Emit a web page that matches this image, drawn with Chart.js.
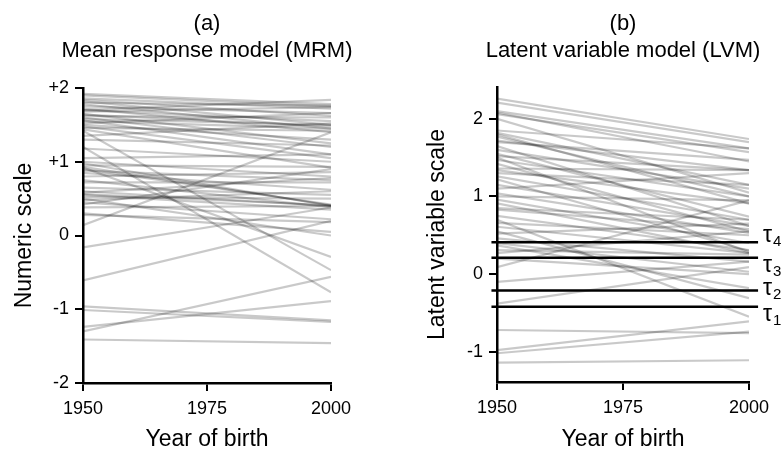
<!DOCTYPE html>
<html>
<head>
<meta charset="utf-8">
<script src="https://cdn.jsdelivr.net/npm/chart.js@4.4.1/dist/chart.umd.min.js"></script>
<style>
  body { margin: 0; background: #fff; }
  #wrap { position: relative; width: 783px; height: 451px; }
  #mrmChart { position: absolute; left: 0; top: 0; }
  #lvmChart { position: absolute; left: 392px; top: 0; }
</style>
</head>
<body>
<div id="wrap">
  <canvas id="mrmChart" width="392" height="451"></canvas>
  <canvas id="lvmChart" width="391" height="451"></canvas>
</div>
<script>
const years = [1950, 2000];
const yearTicks = [1950, 1975, 2000];

const mrmTicks = [-2, -1, 0, 1, 2];
const mrmTickLabels = ["-2", "-1", "0", "+1", "+2"];
const mrmStart = [
  1.92, 1.9, 1.7, 1.86, 1.84, 1.82, 1.8, 1.78, 1.75, 1.72, 1.7, 1.68, 1.65, 1.64, 1.62,
  1.6, 1.58, 1.56, 1.55, 1.52, 1.5, 1.48, 1.46, 1.44, 1.42, 1.35, 1.3, 1.2, 1.18, 1.05,
  1.0, 0.98, 0.95, 0.93, 0.92, 0.9, 0.88, 0.85, 0.8, 0.75, 0.72, 0.65, 0.6, 0.58, 0.56,
  0.55, 0.52, 0.5, 0.48, 0.45, 0.42, 0.38, 0.3, 0.28, 0.14, -0.16, -0.61, -0.96, -1.01,
  -1.24, -1.3, -1.41
];
const mrmEnd = [
  1.78, 1.75, 1.84, 1.72, 1.62, 1.5, 1.76, 1.45, 1.66, 1.4, 1.55, 1.74, 1.25, 1.48, 1.6,
  1.2, 1.5, 1.1, 1.45, 1.66, 1.3, 1.05, 1.42, 0.92, -0.47, 1.52, 1.22, -0.77, 1.0, 1.1,
  0.8, 0.4, 0.93, 0.41, -0.29, 0.42, 0.75, 0.62, 0.86, 0.38, 0.72, 0.55, 0.4, 0.78, 0.41,
  0.35, 0.5, 0.0, 0.6, 0.22, 0.9, 0.4, 0.05, 0.18, 1.4, 0.38, 0.2, -1.15, -1.17,
  -0.89, -0.56, -1.46
];

const lvmTicks = [-1, 0, 1, 2];
const lvmStart = [
  2.26, 2.21, 2.1, 2.08, 2.06, 2.0, 1.85, 1.82, 1.8, 1.77, 1.72, 1.7, 1.65, 1.6, 1.55,
  1.52, 1.5, 1.47, 1.42, 1.36, 1.34, 1.3, 1.26, 1.22, 1.15, 1.1, 1.04, 1.0, 0.96, 0.91,
  0.85, 0.83, 0.75, 0.7, 0.66, 0.61, 0.55, 0.52, 0.46, 0.4, 0.37, 0.31, 0.27, 0.2, 0.09,
  -0.1, -0.38, -0.72, -0.98, -1.02, -1.14
];
const lvmEnd = [
  1.74, 1.7, 1.62, 1.45, 1.57, 1.05, 1.62, 1.15, 0.91, 1.0, 1.34, 1.47, 0.62, 1.1, 0.74,
  1.34, 0.28, 1.0, 0.55, 1.34, 0.91, 1.15, 0.7, 0.3, 0.62, 1.3, 0.53, 0.95, 0.4, 0.27,
  0.7, 0.58, 0.31, -0.55, 0.5, 0.27, -0.31, 0.65, 0.16, 0.03, -0.18, 0.25, 0.55, 0.0, 0.95,
  0.16, 0.09, -0.76, -0.61, -0.74, -1.11
];
const tau = [-0.42, -0.21, 0.21, 0.41];
const tauLabels = ["1", "2", "3", "4"];

const FONT = '"Liberation Sans", Arial, sans-serif';

function lineSets(starts, ends) {
  return starts.map((s, i) => ({
    data: [{ x: years[0], y: s }, { x: years[1], y: ends[i] }],
    borderColor: "rgba(0, 0, 0, 0.21)",
    borderWidth: 2.2,
    pointRadius: 0,
    fill: false,
  }));
}

function axis(ticks, labels, min, max, fitSize, isX) {
  return {
    type: "linear",
    min,
    max,
    afterBuildTicks: (scale) => {
      scale.ticks = ticks.map((v) => ({ value: v }));
    },
    afterFit: (scale) => {
      if (isX) scale.height = fitSize;
      else scale.width = fitSize;
    },
    ticks: {
      color: "#000",
      font: { family: FONT, size: 18 },
      padding: isX ? 7 : 6,
      maxRotation: 0,
      autoSkip: false,
      callback: (v) => {
        const i = ticks.indexOf(v);
        return labels ? labels[i] : String(v);
      },
    },
    grid: {
      drawOnChartArea: false,
      drawTicks: true,
      tickLength: 8,
      color: "#000",
      lineWidth: 2,
    },
    border: { display: true, color: "#000", width: 2.5 },
  };
}

function textPlugin(title1, title2, yTitle, yTitleX, withTau) {
  return {
    id: "texts",
    afterDraw(chart) {
      const { ctx, chartArea } = chart;
      const cx = (chartArea.left + chartArea.right) / 2;
      const cy = (chartArea.top + chartArea.bottom) / 2;
      ctx.save();
      ctx.fillStyle = "#000";
      ctx.textAlign = "center";
      ctx.textBaseline = "alphabetic";
      ctx.font = "22px " + FONT;
      ctx.fillText(title1, cx, 30);
      ctx.fillText(title2, cx, 57);
      ctx.font = "23px " + FONT;
      ctx.fillText("Year of birth", cx, 446);
      ctx.save();
      ctx.translate(yTitleX, cy);
      ctx.rotate(-Math.PI / 2);
      ctx.textBaseline = "middle";
      ctx.fillText(yTitle, 0, 0);
      ctx.restore();
      if (withTau) {
        const y = chart.scales.y;
        const offs = [14, 5, 14, 0];
        ctx.textAlign = "left";
        tau.forEach((t, i) => {
          const py = y.getPixelForValue(t) + offs[i];
          const px = chartArea.right + 14;
          ctx.font = "23px " + FONT;
          ctx.fillText("\u03c4", px, py);
          const w = ctx.measureText("\u03c4").width;
          ctx.font = "15px " + FONT;
          ctx.fillText(tauLabels[i], px + w + 1, py + 4);
        });
      }
      ctx.restore();
    },
  };
}

new Chart(document.getElementById("mrmChart"), {
  type: "line",
  data: { datasets: lineSets(mrmStart, mrmEnd) },
  options: {
    responsive: false,
    animation: false,
    layout: { padding: { left: 0, top: 88, right: 61, bottom: 0 } },
    plugins: { legend: { display: false }, tooltip: { enabled: false } },
    scales: {
      x: axis(yearTicks, null, 1950, 2000, 68, true),
      y: axis(mrmTicks, mrmTickLabels, -2, 2, 83, false),
    },
  },
  plugins: [textPlugin("(a)", "Mean response model (MRM)", "Numeric scale", 25, false)],
});

const tauSets = tau.map((t) => ({
  data: [{ x: 1948.9, y: t }, { x: 2001.8, y: t }],
  borderColor: "#000",
  borderWidth: 2.5,
  pointRadius: 0,
  clip: false,
}));

new Chart(document.getElementById("lvmChart"), {
  type: "line",
  data: { datasets: lineSets(lvmStart, lvmEnd).concat(tauSets) },
  options: {
    responsive: false,
    animation: false,
    layout: { padding: { left: 0, top: 87, right: 34, bottom: 0 } },
    plugins: { legend: { display: false }, tooltip: { enabled: false } },
    scales: {
      x: axis(yearTicks, null, 1950, 2000, 69, true),
      y: axis(lvmTicks, null, -1.39, 2.41, 105, false),
    },
  },
  plugins: [textPlugin("(b)", "Latent variable model (LVM)", "Latent variable scale", 46, true)],
});
</script>
</body>
</html>
